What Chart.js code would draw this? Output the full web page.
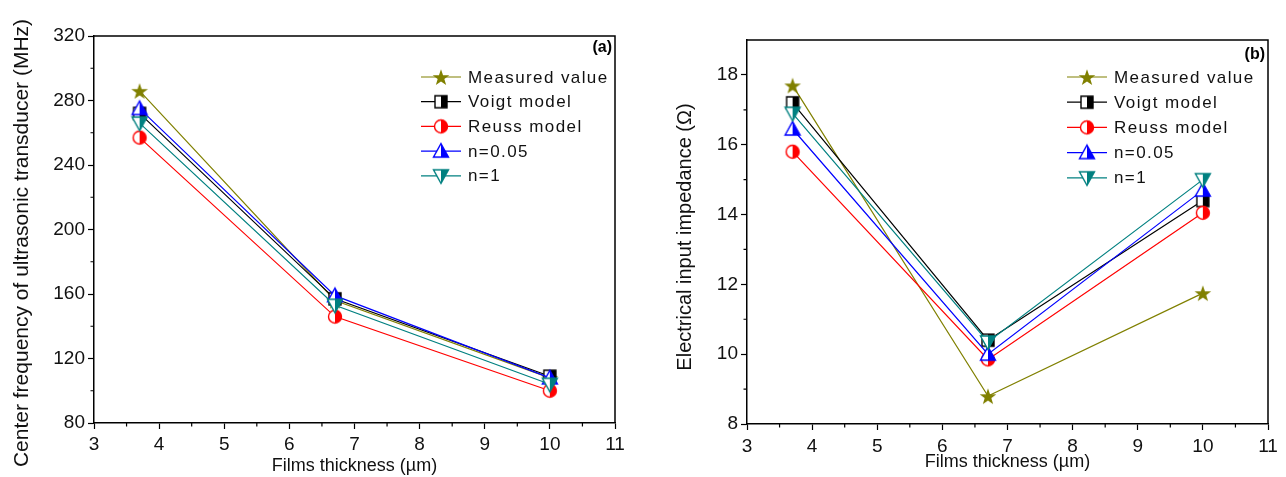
<!DOCTYPE html>
<html>
<head>
<meta charset="utf-8">
<script src="https://cdn.jsdelivr.net/npm/chart.js@4.4.0/dist/chart.umd.min.js"></script>
<style>
html, body { margin: 0; padding: 0; background: #fff; }
#wrap { display: flex; width: 1286px; height: 477px; }
.box { position: relative; width: 643px; height: 477px; }
</style>
</head>
<body>
<div id="wrap">
  <div class="box"><canvas id="chartA"></canvas></div>
  <div class="box"><canvas id="chartB"></canvas></div>
</div>
<script>
// film thickness in um
var thickness = [3.7, 6.7, 10];
var seriesNames = ["Measured value", "Voigt model", "Reuss model", "n=0.05", "n=1"];

// (a) center frequency, MHz
var freqMeasured = [286, 156, 108];
var freqVoigt = [272, 157, 109];
var freqReuss = [257, 146, 100];
var freqN005 = [275, 159, 108];
var freqN1 = [266, 153, 104];

// (b) electrical input impedance, ohm
var impMeasured = [17.7, 8.8, 11.75];
var impVoigt = [17.2, 10.4, 14.4];
var impReuss = [15.8, 9.85, 14.05];
var impN005 = [16.45, 10.0, 14.7];
var impN1 = [16.9, 10.35, 15.0];

var xTicks = [3, 4, 5, 6, 7, 8, 9, 10, 11];

Chart.defaults.font.family = '"Liberation Sans", Arial, sans-serif';
Chart.defaults.color = '#111';

var colors = ['#808000', '#000000', '#ff0000', '#0000ff', '#008080'];
var shapes = ['star', 'square', 'circle', 'triUp', 'triDown'];

// Origin-style markers: left half hollow, right half filled
function makeMarker(shape, color) {
    var s = 20, c = document.createElement('canvas');
    c.width = s; c.height = s;
    var g = c.getContext('2d');
    var m = s / 2, r = 7;
    function path() {
        g.beginPath();
        if (shape === 'star') {
            for (var k = 0; k < 10; k++) {
                var a = -Math.PI / 2 + k * Math.PI / 5;
                var rr = (k % 2) ? r * 0.5 : r * 1.25;
                g.lineTo(m + rr * Math.cos(a), m + 1 + rr * Math.sin(a));
            }
        } else if (shape === 'square') {
            g.rect(m - r + 1, m - r + 1, 2 * r - 2, 2 * r - 2);
        } else if (shape === 'circle') {
            g.arc(m, m, r - 0.5, 0, Math.PI * 2);
        } else if (shape === 'triUp') {
            g.moveTo(m, m - r - 0.5);
            g.lineTo(m + r + 0.5, m + r - 1);
            g.lineTo(m - r - 0.5, m + r - 1);
        } else {
            g.moveTo(m - r - 0.5, m - r + 1);
            g.lineTo(m + r + 0.5, m - r + 1);
            g.lineTo(m, m + r + 0.5);
        }
        g.closePath();
    }
    g.lineWidth = 1.4;
    if (shape === 'star') {
        path(); g.fillStyle = color; g.fill();
        return c;
    }
    path(); g.fillStyle = '#fff'; g.fill();
    g.save();
    g.beginPath(); g.rect(m, 0, s, s); g.clip();
    path(); g.fillStyle = color; g.fill();
    g.restore();
    path(); g.strokeStyle = color; g.stroke();
    return c;
}

function buildDatasets(seriesList) {
    return seriesList.map(function (vals, i) {
        return {
            label: seriesNames[i],
            data: thickness.map(function (t, j) { return { x: t, y: vals[j] }; }),
            borderColor: colors[i],
            backgroundColor: colors[i],
            borderWidth: 1.2,
            pointStyle: makeMarker(shapes[i], colors[i]),
            pointRadius: 7,
            order: seriesList.length - i,
            tension: 0
        };
    });
}

// frame, minor ticks, y title, in-plot legend and panel tag
var panelDecor = {
    id: 'panelDecor',
    afterDraw: function (chart, args, opts) {
        var ctx = chart.ctx, a = chart.chartArea;
        var xs = chart.scales.x, ys = chart.scales.y;
        ctx.save();
        ctx.strokeStyle = '#000';
        ctx.lineWidth = 1.5;
        ctx.beginPath();
        ctx.moveTo(a.left, a.top); ctx.lineTo(a.right, a.top); ctx.lineTo(a.right, a.bottom);
        ctx.stroke();

        ctx.lineWidth = 1.2;
        ctx.beginPath();
        opts.xMinor.forEach(function (v) {
            var px = xs.getPixelForValue(v);
            ctx.moveTo(px, a.bottom); ctx.lineTo(px, a.bottom + 3.5);
        });
        opts.yMinor.forEach(function (v) {
            var py = ys.getPixelForValue(v);
            ctx.moveTo(a.left, py); ctx.lineTo(a.left - 3.5, py);
        });
        ctx.stroke();

        // rotated y-axis title
        ctx.save();
        ctx.translate(opts.yTitleX, opts.yTitleY);
        ctx.rotate(-Math.PI / 2);
        ctx.font = opts.yTitleSize + 'px "Liberation Sans", Arial, sans-serif';
        ctx.textAlign = 'center';
        ctx.textBaseline = 'middle';
        ctx.fillStyle = '#111';
        ctx.fillText(opts.yTitle, 0, 0);
        ctx.restore();

        ctx.font = '17px "Liberation Sans", Arial, sans-serif';
        ctx.letterSpacing = '1.4px';
        ctx.textBaseline = 'middle';
        ctx.textAlign = 'left';
        chart.data.datasets.forEach(function (ds, i) {
            var y = opts.legendY + i * opts.legendGap;
            ctx.strokeStyle = ds.borderColor;
            ctx.lineWidth = 1.2;
            ctx.beginPath(); ctx.moveTo(opts.legendX, y); ctx.lineTo(opts.legendX + 40, y); ctx.stroke();
            var img = ds.pointStyle;
            ctx.drawImage(img, opts.legendX + 20 - img.width / 2, y - img.height / 2);
            ctx.fillStyle = '#111';
            ctx.fillText(ds.label, opts.legendX + 47, y + 1);
        });

        ctx.letterSpacing = '0px';
        ctx.font = 'bold 16px "Liberation Sans", Arial, sans-serif';
        ctx.textAlign = 'right';
        ctx.fillStyle = '#000';
        ctx.fillText(opts.tag, a.right - 3, opts.tagY);
        ctx.restore();
    }
};

function makeChart(id, datasets, cfg) {
    return new Chart(document.getElementById(id), {
        type: 'line',
        data: { datasets: datasets },
        plugins: [panelDecor],
        options: {
            responsive: true,
            maintainAspectRatio: false,
            animation: false,
            events: [],
            layout: { padding: { top: cfg.top, right: cfg.right, left: 0, bottom: 0 } },
            plugins: {
                legend: { display: false },
                tooltip: { enabled: false },
                panelDecor: cfg.decor
            },
            scales: {
                x: {
                    type: 'linear',
                    min: 3, max: 11,
                    afterBuildTicks: function (s) { s.ticks = xTicks.map(function (v) { return { value: v }; }); },
                    afterFit: function (s) { s.height = cfg.xHeight; },
                    grid: { drawOnChartArea: false, color: '#000', tickLength: 6, tickWidth: 1.2 },
                    border: { color: '#000', width: 1.5 },
                    ticks: { font: { size: 19 }, padding: cfg.xTickPad, maxRotation: 0, color: '#111' },
                    title: {
                        display: true, text: 'Films thickness (\u00b5m)',
                        font: { size: 18 }, color: '#111',
                        padding: { top: cfg.xTitlePad, bottom: cfg.xTitlePad }
                    }
                },
                y: {
                    type: 'linear',
                    min: cfg.yMin, max: cfg.yMax,
                    ticks: { stepSize: cfg.yStep, includeBounds: false, font: { size: 19 }, padding: 3, color: '#111' },
                    afterFit: function (s) { s.width = cfg.yWidth; },
                    grid: { drawOnChartArea: false, color: '#000', tickLength: 6, tickWidth: 1.2 }, 
                    border: { color: '#000', width: 1.5 }
                }
            }
        }
    });
}

makeChart('chartA', buildDatasets([freqMeasured, freqVoigt, freqReuss, freqN005, freqN1]), {
    top: 36, right: 28, xHeight: 54, yWidth: 94, xTitlePad: 0, xTickPad: 4,
    yMin: 80, yMax: 320, yStep: 40,
    decor: {
        yTitle: 'Center frequency of ultrasonic transducer (MHz)',
        yTitleX: 22, yTitleY: 243, yTitleSize: 21,
        xMinor: [3.5, 4.5, 5.5, 6.5, 7.5, 8.5, 9.5, 10.5],
        yMinor: [100, 140, 180, 220, 260, 300],
        legendX: 421, legendY: 77, legendGap: 24.7,
        tag: '(a)', tagY: 48
    }
});

makeChart('chartB', buildDatasets([impMeasured, impVoigt, impReuss, impN005, impN1]), {
    top: 40, right: 18, xHeight: 53, yWidth: 104, xTitlePad: 4, xTickPad: 5,
    yMin: 8, yMax: 19, yStep: 2,
    decor: {
        yTitle: 'Electrical input impedance (\u03a9)',
        yTitleX: 42, yTitleY: 237, yTitleSize: 20,
        xMinor: [3.5, 4.5, 5.5, 6.5, 7.5, 8.5, 9.5, 10.5],
        yMinor: [9, 11, 13, 15, 17],
        legendX: 424, legendY: 77, legendGap: 25.2,
        tag: '(b)', tagY: 55
    }
});
</script>
</body>
</html>
